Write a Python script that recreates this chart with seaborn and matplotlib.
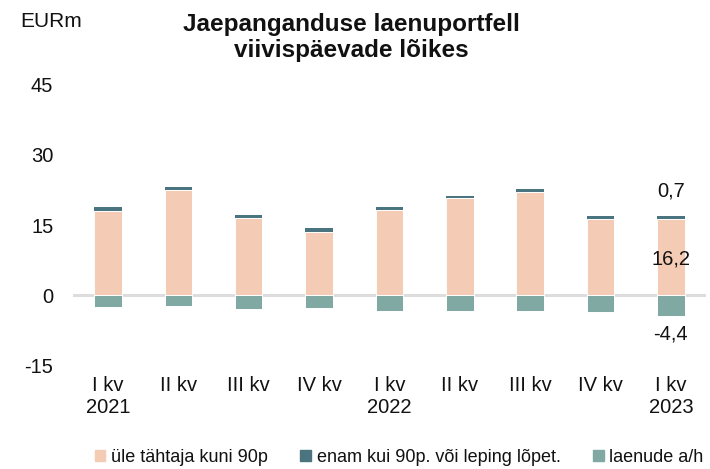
import pandas as pd
import seaborn as sns
import matplotlib.pyplot as plt
from matplotlib.patches import Patch

# andmed (EURm)
kvartalid = ["I kv\n2021", "II kv", "III kv", "IV kv", "I kv\n2022",
             "II kv", "III kv", "IV kv", "I kv\n2023"]
ule_tahtaja = [18.1, 22.5, 16.4, 13.6, 18.2, 20.8, 22.0, 16.3, 16.2]
enam_kui_90 = [0.8, 0.6, 0.8, 0.8, 0.7, 0.5, 0.7, 0.6, 0.7]
laenude_ah = [-2.5, -2.4, -2.9, -2.7, -3.4, -3.4, -3.4, -3.7, -4.4]

c_peach = "#F4CBB4"
c_dark = "#4A7480"
c_teal = "#80A9A3"

df = pd.DataFrame({"pos": range(len(kvartalid)), "ule": ule_tahtaja,
                   "enam": enam_kui_90, "ah": laenude_ah})
df["kokku"] = df["ule"] + df["enam"]

sns.set_style("white")
plt.rcParams["font.family"] = ["Liberation Sans", "DejaVu Sans"]
plt.rcParams["text.color"] = "#111111"

fig = plt.figure(figsize=(7.1, 4.69), dpi=100)
ax = fig.add_axes([0.1025, 0.2217, 0.892, 0.5971])

# kogu tulp tumedas värvis, peale heledam osa valge äärega
sns.barplot(data=df, x="pos", y="kokku", color=c_dark, width=0.39,
            saturation=1, ax=ax, linewidth=0)
sns.barplot(data=df, x="pos", y="ule", color=c_peach, width=0.39,
            saturation=1, ax=ax, edgecolor="white", linewidth=0.7)
sns.barplot(data=df, x="pos", y="ah", color=c_teal, width=0.39,
            saturation=1, ax=ax, edgecolor="white", linewidth=0.7)

ax.axhline(0, color="#DDDDDD", lw=2.2, zorder=0.5)
ax.set_ylim(-15, 45)
ax.set_xlim(-0.5, 8.5)
ax.set_xticks(range(len(kvartalid)))
ax.set_xticklabels(kvartalid)
ax.set_yticks([-15, 0, 15, 30, 45])
ax.set_yticklabels(["-15", "0", "15", "30", "45"])
ax.set_xlabel("")
ax.set_ylabel("")
ax.tick_params(axis="both", length=0, labelsize=14.5, colors="#111111")
ax.tick_params(axis="y", pad=14)
ax.tick_params(axis="x", pad=8)
for s in ax.spines.values():
    s.set_visible(False)

# viimase tulba väärtused
ax.text(8, 22.3, "0,7", ha="center", va="center", fontsize=14.5)
ax.text(8, 7.8, "16,2", ha="center", va="center", fontsize=14.5)
ax.text(8, -8.4, "-4,4", ha="center", va="center", fontsize=14.5)

fig.text(0.028, 0.955, "EURm", fontsize=15, va="center")
fig.text(0.495, 0.92, "Jaepanganduse laenuportfell\nviivispäevade lõikes",
         ha="center", va="center", fontsize=17.5, fontweight="bold",
         linespacing=1.2)

handles = [Patch(color=c_peach, label="üle tähtaja kuni 90p"),
           Patch(color=c_dark, label="enam kui 90p. või leping lõpet."),
           Patch(color=c_teal, label="laenude a/h")]
fig.legend(handles=handles, loc="center", bbox_to_anchor=(0.562, 0.025),
           ncol=3, frameon=False, fontsize=13, handlelength=0.6,
           handleheight=0.6, handletextpad=0.3, columnspacing=1.8)

fig.savefig("out.png", dpi=100)
